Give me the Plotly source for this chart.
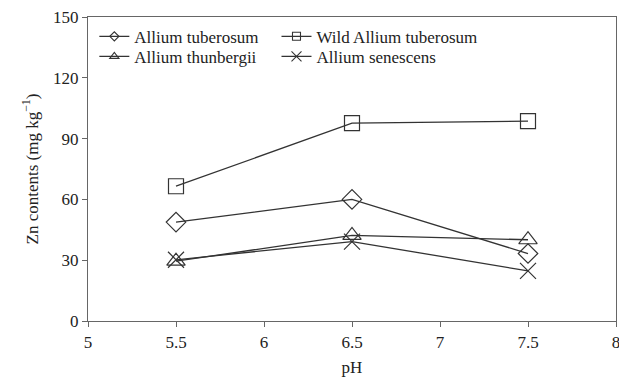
import plotly.graph_objects as go

ph = [5.5, 6.5, 7.5]
series_names = ["Allium tuberosum", "Wild Allium tuberosum", "Allium thunbergii", "Allium senescens"]
tuberosum = [48.8, 60, 33.3]
wild_tuberosum = [66.5, 97.6, 98.6]
thunbergii = [29.5, 42.2, 40.1]
senescens = [30.2, 39.2, 24.7]
x_ticks = [5, 5.5, 6, 6.5, 7, 7.5, 8]
y_ticks = [0, 30, 60, 90, 120, 150]

symbols = ["diamond-open", "square-open", "triangle-up-open", "x-thin-open"]
sizes = [15, 15, 16, 16]
legend_sizes = [7, 8, 8, 10]
legend_ids = ["legend", "legend2", "legend3", "legend4"]
legend_x = [0.012, 0.357, 0.012, 0.357]
legend_y = [0.935, 0.935, 0.869, 0.869]
values = [tuberosum, wild_tuberosum, thunbergii, senescens]
col = "#333333"

fig = go.Figure()
for name, vals, sym, sz in zip(series_names, values, symbols, sizes):
    fig.add_trace(go.Scatter(
        x=ph, y=vals, name=name, mode="lines+markers", showlegend=False,
        line=dict(color=col, width=1.3),
        marker=dict(symbol=sym, size=sz, color=col, line=dict(color=col, width=1.2)),
    ))
# legend-only entries with small symbols, as in the reference legend
for name, sym, lsz, lid in zip(series_names, symbols, legend_sizes, legend_ids):
    fig.add_trace(go.Scatter(
        x=[None], y=[None], name=name, mode="lines+markers", legend=lid,
        line=dict(color=col, width=1.3),
        marker=dict(symbol=sym, size=lsz, color=col, line=dict(color=col, width=1.1)),
    ))

font = "Liberation Serif, Times New Roman, serif"
leg_common = dict(orientation="v", yanchor="middle", xanchor="left", bgcolor="rgba(0,0,0,0)",
                  font=dict(family=font, size=17, color="#222"), tracegroupgap=0)
legends = {}
for lid, lx, ly in zip(legend_ids, legend_x, legend_y):
    legends[lid] = dict(x=lx, y=ly, **leg_common)

# the page body has an 8px margin, so the figure is sized to fit the window
fig.update_layout(
    width=619, height=374,
    margin=dict(l=80, r=11, t=9, b=61),
    paper_bgcolor="white", plot_bgcolor="white",
    font=dict(family=font, size=17, color="#222"),
    showlegend=True,
    **legends,
    xaxis=dict(range=[5, 8], tickvals=x_ticks, ticktext=[str(v) for v in x_ticks],
               showgrid=False, zeroline=False, showline=True, linecolor="#666",
               linewidth=1.2, mirror=True, ticks="outside", ticklen=5, tickcolor="#666",
               automargin=False, ticklabeloverflow="allow",
               title=dict(text="pH", standoff=10, font=dict(family=font, size=17))),
    yaxis=dict(range=[0, 150], tickvals=y_ticks, showgrid=False, zeroline=False,
               showline=True, linecolor="#666", linewidth=1.2, mirror=True,
               ticks="outside", ticklen=5, tickcolor="#666", automargin=False,
               ticklabeloverflow="allow",
               title=dict(text="Zn contents (mg kg<sup>−1</sup>)", standoff=10,
                          font=dict(family=font, size=17))),
)

fig.write_html("out.html")
